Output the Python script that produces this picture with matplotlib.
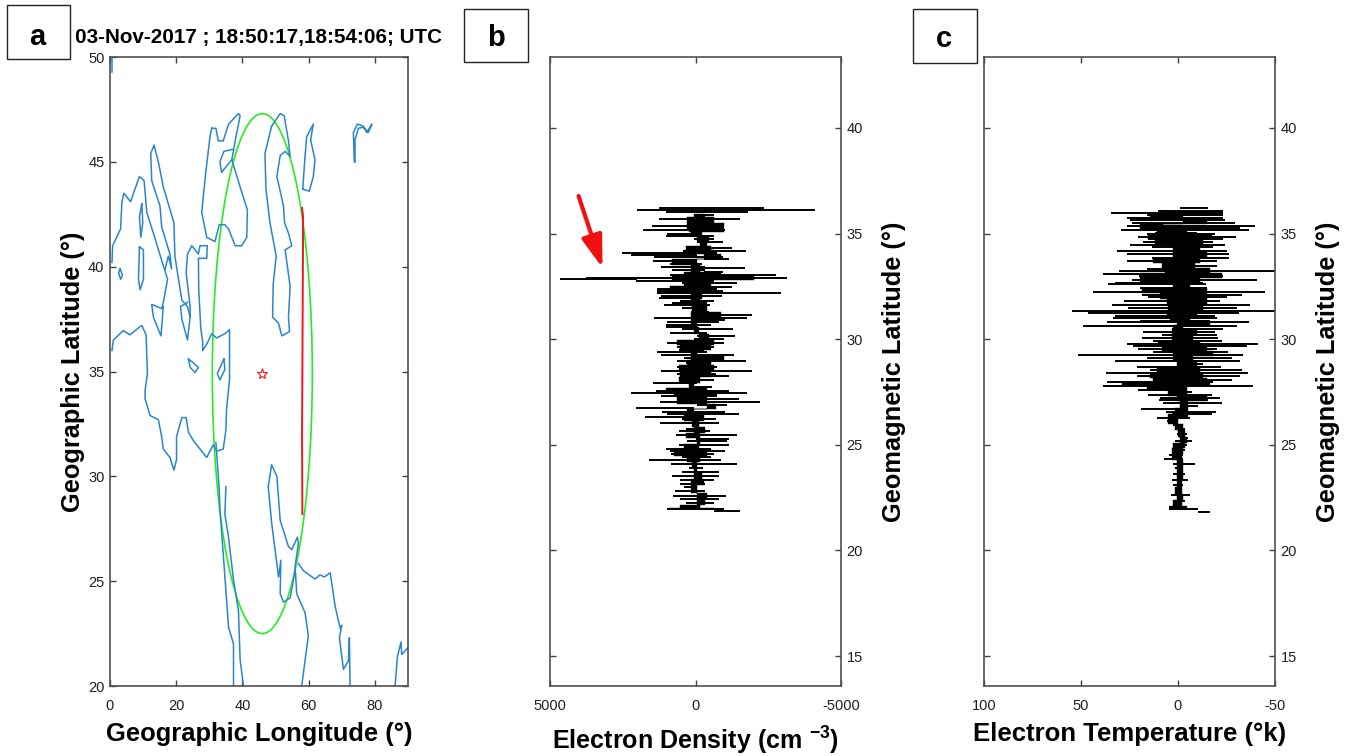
import matplotlib
matplotlib.use('Agg')
import matplotlib.pyplot as plt
from matplotlib.patches import Ellipse, Rectangle

plt.rcParams['font.family'] = ['Liberation Sans', 'DejaVu Sans']
plt.rcParams['mathtext.fontset'] = 'custom'
plt.rcParams['mathtext.bf'] = 'Liberation Sans:bold'
plt.rcParams['axes.unicode_minus'] = False

W, H = 1349, 756

# coastlines (lon, lat)
edge_lon = [0.6, 0.6]
edge_lat = [50.0, 49.3]
iberia_lon = [0.6, 0.8, 3.2, 3.6, 4.2, 6.2, 8.9, 10.3, 11.1, 13.1, 15.6, 17.4, 16.1, 15.6, 12.6, 13.1, 15.4, 16.1]
iberia_lat = [40.2, 41.0, 41.8, 43.1, 43.5, 43.1, 44.3, 44.1, 42.6, 41.6, 40.3, 39.4, 38.3, 38.0, 38.2, 37.6, 36.7, 38.1]
adriatic_lon = [16.6, 17.6, 18.6, 18.1, 15.6, 15.1, 12.6, 12.3, 13.3, 14.6, 16.1, 19.3, 19.6, 21.7, 23.4, 24.2, 23.4, 21.7, 21.3, 23.4]
adriatic_lat = [39.85, 40.5, 39.9, 40.6, 41.9, 42.9, 44.1, 45.4, 45.8, 45.0, 43.8, 42.1, 40.5, 38.4, 38.1, 37.6, 36.5, 37.5, 38.1, 38.3]
africa_lon = [0.6, 1.0, 4.0, 6.0, 9.6, 10.9, 11.3, 10.6, 10.6, 12.1, 14.6, 15.6, 16.1, 18.1, 19.3, 20.1, 20.1, 21.7, 23.0, 23.7,
              25.2, 29.2, 31.2, 32.2, 34.2, 35.0, 35.2, 36.1, 36.1, 34.7, 32.2, 30.7, 29.2, 28.0, 28.0, 27.4, 26.8, 26.7, 29.2,
              29.4, 27.2, 26.7, 24.7, 23.4, 23.0, 24.2, 24.2]
africa_lat = [36.0, 36.5, 36.95, 36.75, 37.2, 36.75, 34.9, 34.1, 33.7, 32.9, 32.7, 31.9, 31.3, 30.9, 30.3, 30.8, 31.9, 32.8, 32.8, 32.1,
              31.7, 30.9, 31.5, 31.2, 31.3, 32.2, 33.2, 34.6, 37.0, 36.8, 36.6, 36.8, 36.3, 36.0, 36.4, 37.1, 38.9, 40.4, 40.4,
              41.0, 41.0, 40.6, 41.0, 40.6, 39.7, 38.1, 37.6]
black_lon = [30.7, 32.0, 32.7, 34.2, 35.8, 38.8, 39.3, 37.8, 36.8, 39.3, 41.5, 41.3, 39.8, 37.8, 35.8, 34.7, 33.0, 31.7, 29.2, 27.7, 28.4, 29.0, 30.2, 30.7]
black_lat = [46.6, 46.6, 46.0, 46.0, 46.8, 47.3, 47.2, 46.0, 45.1, 43.8, 42.7, 41.4, 41.0, 41.0, 41.8, 42.0, 42.0, 41.2, 41.4, 42.6, 43.7, 44.6, 46.2, 46.6]
azov_lon = [36.8, 33.7, 33.2, 34.4, 37.3]
azov_lat = [45.1, 44.5, 45.0, 45.5, 45.6]
caspian_lon = [48.8, 51.4, 52.6, 53.9, 54.4, 52.9, 51.4, 50.4, 52.4, 52.7, 53.9, 54.9, 52.9, 54.4, 53.9, 54.2, 51.9, 50.9, 49.1, 49.3, 50.2, 48.3, 47.1, 46.8, 48.8]
caspian_lat = [46.7, 47.3, 47.2, 46.0, 45.25, 45.5, 45.3, 44.3, 42.9, 42.1, 41.6, 41.0, 40.8, 39.05, 37.6, 36.9, 36.7, 37.3, 37.6, 39.2, 40.5, 42.1, 43.7, 45.4, 46.7]
aral_lon = [58.2, 58.9, 59.4, 61.4, 60.6, 61.9, 61.4, 60.2, 58.2]
aral_lat = [43.7, 45.25, 46.2, 46.8, 46.05, 45.1, 44.3, 43.6, 43.7]
balkhash_lon = [73.8, 73.5, 74.7, 76.5, 77.5, 79.1, 78.0, 76.5, 75.0, 74.0, 74.0]
balkhash_lat = [45.0, 46.4, 46.8, 46.7, 46.4, 46.8, 46.4, 46.65, 46.6, 46.05, 45.0]
sardinia_lon = [8.9, 10.1, 10.1, 9.1, 8.6, 8.9]
sardinia_lat = [40.95, 40.8, 39.4, 38.9, 39.4, 40.95]
corsica_lon = [9.6, 8.9, 9.3, 9.9, 9.6]
corsica_lat = [43.0, 42.4, 41.4, 42.1, 43.0]
balearic_lon = [3.0, 3.8, 3.2, 2.6, 3.0]
balearic_lat = [39.9, 39.6, 39.4, 39.7, 39.9]
crete_lon = [23.7, 26.7, 25.7, 24.2, 23.7]
crete_lat = [35.6, 35.2, 34.95, 35.2, 35.6]
cyprus_lon = [34.4, 32.4, 33.2, 34.7, 34.4]
cyprus_lat = [35.6, 34.9, 34.6, 35.1, 35.6]
redsea_w_lon = [32.0, 33.0, 33.2, 34.2, 35.8, 37.3, 37.3]
redsea_w_lat = [31.6, 29.35, 28.4, 26.3, 22.8, 22.0, 20.0]
redsea_e_lon = [35.0, 34.7, 35.8, 37.3, 38.8, 39.3, 40.3]
redsea_e_lat = [29.5, 28.2, 27.1, 25.05, 23.6, 21.25, 20.0]
gulf_n_lon = [47.8, 48.8, 50.4, 51.4, 53.9, 54.9, 56.6, 56.9, 55.9, 56.4, 58.9, 59.9, 57.9]
gulf_n_lat = [29.5, 30.55, 30.0, 27.9, 26.65, 26.5, 27.1, 26.8, 25.7, 24.4, 23.5, 22.4, 20.0]
gulf_s_lon = [47.8, 48.8, 50.9, 51.6, 51.4, 52.4, 54.4, 55.9]
gulf_s_lat = [29.5, 27.8, 25.2, 26.0, 24.4, 24.0, 24.2, 25.5]
iran_lon = [56.9, 58.4, 61.9, 63.4, 64.7, 66.5, 68.0, 69.5, 70.0, 69.3, 70.5, 72.0, 72.3, 72.5]
iran_lat = [25.85, 25.5, 25.1, 25.3, 25.2, 25.4, 23.8, 22.75, 22.9, 22.3, 20.8, 21.2, 22.3, 20.0]
india_lon = [86.1, 86.8, 87.9, 88.1, 89.8]
india_lat = [20.0, 21.4, 22.1, 21.5, 21.8]

coasts = [(edge_lon, edge_lat), (iberia_lon, iberia_lat), (adriatic_lon, adriatic_lat), (africa_lon, africa_lat),
          (black_lon, black_lat), (azov_lon, azov_lat), (caspian_lon, caspian_lat), (aral_lon, aral_lat),
          (balkhash_lon, balkhash_lat), (sardinia_lon, sardinia_lat), (corsica_lon, corsica_lat),
          (balearic_lon, balearic_lat), (crete_lon, crete_lat), (cyprus_lon, cyprus_lat),
          (redsea_w_lon, redsea_w_lat), (redsea_e_lon, redsea_e_lat), (gulf_n_lon, gulf_n_lat),
          (gulf_s_lon, gulf_s_lat), (iran_lon, iran_lat), (india_lon, india_lat)]

# satellite track, epicentre and preparation zone
track_lon = [58.0, 58.3, 58.3, 58.1, 58.0, 58.1]
track_lat = [42.8, 42.4, 41.5, 35.0, 32.0, 28.2]
epi_lon = 46.0
epi_lat = 34.9
zone_width = 30.2
zone_height = 24.8

# panel b: electron density, tips of the spikes per latitude
dens_lat = [36.19, 36.13, 36.02, 35.88, 35.70, 35.53, 35.35, 35.18, 34.99, 34.88, 34.72, 34.60, 34.30, 34.17, 34.09, 34.00,
            33.87, 33.79, 33.68, 33.57, 33.44, 33.38, 33.27, 33.16, 33.02, 32.92, 32.83, 32.76, 32.64, 32.48, 32.37, 32.27,
            32.18, 32.04, 31.93, 31.81, 31.72, 31.61, 31.50, 31.29, 31.14, 31.01, 30.90, 30.80, 30.69, 30.58, 30.46, 30.27,
            30.16, 30.00, 29.81, 29.63, 29.51, 29.37, 29.27, 29.13, 28.97, 28.85, 28.69, 28.48, 28.37, 28.25, 28.06, 27.93,
            27.74, 27.55, 27.43, 27.32, 27.17, 27.02, 26.87, 26.72, 26.57, 26.45, 26.32, 26.21, 26.04, 25.77, 25.64, 25.44,
            25.28, 25.17, 25.01, 24.82, 24.71, 24.58, 24.43, 24.27, 24.11, 23.92, 23.71, 23.51, 23.32, 23.16, 23.00, 22.81,
            22.59, 22.43, 22.24, 22.12, 21.96, 21.85]
dens_hi = [1260, 2000, 1030, 60, 1260, 290, 1510, 1800, 970, 1030, 60, -60, 340, 420, 2510, 2230,
           1430, -290, 1470, 860, 1200, 170, 800, -290, 860, 3780, 4640, 2030, 460, 520, 1340, 1340,
           1320, 1200, 1260, 520, 800, 1090, 460, 170, 170, 1430, 170, 970, 1030, 1030, 460, 860,
           -60, 60, 970, 630, 570, 1340, 1180, 400, 630, 340, 630, 1180, 630, 460, 570, 1470,
           170, 1370, 2230, 1200, 60, 1230, -60, 2050, 1150, 970, 1720, 460, 1230, 340, 570, 680,
           0, 290, 570, 1010, 860, 840, 460, 1590, 840, 230, 460, 800, 520, 540, 400, 690,
           770, 540, 340, 400, 970, -630]
dens_lo = [-2350, -4120, -1800, -630, -1520, -630, -970, -1000, 170, -630, -630, -950, -1260, -1740, -740, -60,
           -950, -1150, -60, -230, -340, -1690, -340, -950, -2750, -3150, 2000, -630, -1410, -1260, -740, -940,
           -2940, -920, -170, -630, -400, -490, -290, -460, -1950, -1770, -1030, -800, -520, -60, -1290, -400,
           -1370, -970, -970, -630, -290, -400, -1320, -970, -1740, -520, -740, -1950, -720, -1150, -630, -60,
           -570, -1150, -1770, -740, -1490, -2230, -1090, 60, -1030, -1490, 110, -690, -800, -340, -490, -1410,
           -1150, -1090, -1150, -520, -1030, -630, -520, -860, -1410, -260, -800, -800, -630, -340, -60, -340,
           -1060, -800, -630, -110, -970, -1520]
# solid black core of the density trace
dens_core_lat = [35.95, 35.64, 35.32, 35.16, 35.01, 34.77, 34.53, 34.30, 34.14, 33.90, 33.66, 33.35, 33.03, 32.92, 32.72, 32.32,
                 32.08, 31.69, 31.45, 31.14, 30.74, 30.42, 30.11, 29.79, 29.63, 29.32, 29.08, 28.93, 28.61, 28.37, 28.06, 27.82,
                 27.58, 27.43, 27.27, 27.03, 26.87, 26.56, 26.24, 26.00, 25.69, 25.45, 25.21, 24.90, 24.58, 24.35, 24.03, 23.87,
                 23.56, 23.24, 22.92, 22.53, 22.29, 22.05, 21.94]
dens_core_hi = [60, 290, 290, 230, 170, -60, -170, 340, 400, -290, 800, 170, 400, 800, 400, 860,
                170, 170, 110, 170, 170, 60, -110, 630, 520, 170, 170, 290, 570, 520, 570, 230,
                1030, 740, 630, 630, -400, 290, 400, 110, 60, 340, -60, 400, 740, 290, 110, 60,
                60, 170, 170, -60, -60, 520, 920]
dens_core_lo = [-340, -630, -970, -970, -230, -460, -400, -520, -630, -860, -60, -170, -860, -2000, -520, -170,
                -230, -170, -400, -860, -60, -110, -460, -630, -520, -60, -970, -520, -630, -520, -170, 60,
                -400, -740, -400, -400, -690, 60, -290, -110, -340, -170, -170, -110, -400, -170, -60, -60,
                -230, -290, -60, -400, -340, -170, -630]

# panel c: electron temperature
temp_lat = [36.19, 36.08, 35.97, 35.87, 35.76, 35.64, 35.51, 35.38, 35.27, 35.18, 35.05, 34.96, 34.85, 34.72, 34.61, 34.48,
            34.36, 34.18, 34.02, 33.82, 33.68, 33.47, 33.34, 33.22, 33.09, 32.98, 32.81, 32.68, 32.59, 32.40, 32.22, 32.11,
            31.99, 31.83, 31.64, 31.48, 31.34, 31.26, 31.10, 30.99, 30.85, 30.79, 30.64, 30.50, 30.34, 30.19, 30.06, 29.90,
            29.79, 29.66, 29.54, 29.40, 29.25, 29.09, 28.98, 28.81, 28.68, 28.56, 28.40, 28.24, 28.08, 27.97, 27.77, 27.61,
            27.48, 27.36, 27.21, 27.10, 26.98, 26.85, 26.71, 26.55, 26.44, 26.28, 26.12, 25.92, 25.76, 25.52, 25.33, 25.16,
            24.97, 24.77, 24.54, 24.32, 24.10, 23.91, 23.63, 23.34, 23.08, 22.84, 22.60, 22.36, 22.05, 21.94, 21.83]
temp_hi = [-1, 10.1, 34.7, 15.8, 26.1, 24.7, 23.9, 26.1, 19.6, 29.5, 11.9, 16.1, 20.4, 15.3, 17.9, 24.7,
           13.6, 31.6, 26.5, 13.6, 26.1, 8.4, 16.1, 30.2, 38.5, 19.9, 23.9, 32.5, 35.9, 19.6, 43.6, 18.7,
           15.3, 27.8, 34.2, 25.6, 54.8, 46.2, 32.5, 33.3, 19.6, 36.8, 48.8, 3.3, 17.9, 8.4, 18.7, 12.7,
           26.5, 23, 20.4, 12.7, 51.7, 16.1, 32.5, 0.7, 21.3, 14.4, 37.1, 21.3, 11.9, 36.8, 38.5, 20.4,
           5, 15.3, 9.3, 9.6, 7.6, -1, 19.1, 6.2, 3.3, 11, 5.8, 2.4, 1.5, 0.7, -1, 1.5,
           2.4, 3.3, 4.5, 7.2, 2.4, 1.5, 2.4, 3.3, 2.4, 1.5, 3.6, 1, 4.5, 4.5, -10.5]
temp_lo = [-15.3, -23, -23, -23, -23, -24.2, -29.4, -39.7, -32, -36.8, -9.6, -19.1, -29.9, -23.4, -18.2, -24.2,
           -18.2, -25.1, -26.5, -26.5, -19.9, -20.3, -16.5, -50, -22.5, -23, -40.5, -13.1, -14.4, -14.8, -44.8, -32.8,
           -25.1, -21.6, -37.1, -30.2, -50, -31.6, -19.1, -19.9, -16.5, -36.6, -30.2, -23.4, -19.1, -19.9, -20.8, -22.5,
           -41.4, -35.4, -19.9, -25.9, -33.7, -27.7, -32, -12.7, -22.2, -32.8, -36.2, -32, -27.7, -18.2, -38.8, -4.5,
           -7, -17.4, -21.6, -15.6, -22.5, -10.5, -5.3, -19.6, -17.4, -6.2, -0.2, -1.9, -3.6, -4.5, -5.3, -7,
           -4.5, -3.6, -2.7, -2.7, -8.8, -2.7, -3.6, -5.3, -2.7, -1.9, -6.2, -3.6, -4.5, -10.5, -16.5]
temp_core_lat = [36.03, 35.79, 35.56, 35.32, 35.08, 34.85, 34.61, 34.29, 33.98, 33.74, 33.50, 33.27, 33.03, 32.79, 32.55, 32.32,
                 32.08, 31.76, 31.45, 31.21, 30.97, 30.74, 30.58, 30.34, 30.03, 29.79, 29.55, 29.32, 29.08, 28.84, 28.53, 28.29,
                 28.05, 27.89, 27.74, 27.42, 27.18, 26.95, 26.55, 26.39, 26.16, 25.84, 25.52, 25.21, 24.97, 24.73, 24.42, 24.10,
                 23.79, 23.47, 23.16, 22.84, 22.52, 22.21, 21.97]
temp_core_hi = [5.8, 14.4, -2.7, 19.6, 11, 15.3, 11.9, 2.4, 2.4, 12.7, 8.4, 6.7, 19.6, 19.6, 2.4, 18.7,
                9.3, 5.8, 5, 5.8, 4.1, 0.7, 2.4, 3.3, 3.3, 10.1, 8.4, 2.4, 2.4, 0.7, 11, 14.4,
                12.7, 29, 16.1, 5, 0.7, -1, 1.5, 5, 5, 1.5, -0.2, -1, 2.4, 3.3, 3.3, 0.7,
                0.7, 0.7, 0.7, 1.5, 0.7, 2.4, 4.1]
temp_core_lo = [-18.2, -2.7, -14.8, 7.6, -4.5, -17.4, -13.1, -11.3, -14.8, -11.3, -8.8, -16.5, -22.5, -11.3, -6.2, -14.8,
                -14.8, -14.8, -13.1, -9.6, -6.2, -16.5, -2.7, -9.6, -7.9, -11.3, -14.8, -18.2, -7.9, -9.6, -11.3, -13.1,
                -14.8, -16.5, -4.5, -4.5, -14.8, -5.3, -5.3, -5.3, -0.2, -2.7, -3.6, -4.5, -3.6, -2.7, -1.9, -2.7,
                -2.7, -2.7, -1.9, -1.9, -2.7, -1.9, -4.5]

# red arrow in panel b (data coordinates)
arrow_start = (4020, 36.78)
arrow_end = (3195, 33.37)

lat_ticks = [15, 20, 25, 30, 35, 40]
gm_lim = (13.58, 43.36)


def add_axes(x0, y0, x1, y1):
    ax = fig.add_axes([x0 / W, 1 - y1 / H, (x1 - x0) / W, (y1 - y0) / H])
    for s in ax.spines.values():
        s.set_color('#505050')
        s.set_linewidth(1.2)
    ax.tick_params(direction='in', length=4, width=1, color='#404040', labelsize=10.5, labelcolor='#202020', pad=4)
    ax.tick_params(axis='x', pad=9)
    return ax


def trace_panel(ax, lat, hi, lo, core_lat, core_hi, core_lo):
    ax.fill_betweenx(core_lat, core_hi, core_lo, color='k', lw=0.3, step='mid')
    ax.hlines(lat, lo, hi, color='k', lw=1.4)
    ax.set_ylim(gm_lim)
    ax.set_yticks(lat_ticks)
    ax.yaxis.tick_right()
    ax.tick_params(axis='y', which='both', left=True, right=True)
    ax.yaxis.set_label_position('right')
    ax.set_ylabel('Geomagnetic Latitude (°)', fontsize=18.3, fontweight='bold', labelpad=14)


def letter(x0, y0, x1, y1, cx, cy, s):
    fig.add_artist(Rectangle((x0 / W, 1 - y1 / H), (x1 - x0) / W, (y1 - y0) / H, transform=fig.transFigure,
                             fc='white', ec='#222222', lw=1))
    fig.text(cx / W, 1 - cy / H, s, fontsize=21, fontweight='bold', ha='center', va='center')


fig = plt.figure(figsize=(W / 100, H / 100), dpi=100)

# panel a
ax1 = add_axes(110, 57, 408, 686)
for lon, lat in coasts:
    ax1.plot(lon, lat, color='#2a85cc', lw=1.1)
ax1.add_patch(Ellipse((epi_lon, epi_lat), zone_width, zone_height, fc='none', ec='#22ee22', lw=1.2))
ax1.plot(track_lon, track_lat, color='#f01818', lw=1.4)
ax1.plot(epi_lon, epi_lat, marker='*', mfc='none', mec='#f01818', ms=8, mew=0.8)
ax1.set_xlim(0, 90)
ax1.set_ylim(20, 50)
ax1.set_xticks([0, 20, 40, 60, 80])
ax1.set_yticks([20, 25, 30, 35, 40, 45, 50])
ax1.tick_params(top=True, right=True)
ax1.set_xlabel('Geographic Longitude (°)', fontsize=18.4, fontweight='bold', labelpad=7)
ax1.set_ylabel('Geographic Latitude (°)', fontsize=18.3, fontweight='bold', labelpad=2)
fig.text(258.5 / W, 1 - 38 / H, '03-Nov-2017 ; 18:50:17,18:54:06; UTC', fontsize=14.85, fontweight='bold', ha='center', va='center')

# panel b
ax2 = add_axes(550, 57, 841, 686)
trace_panel(ax2, dens_lat, dens_hi, dens_lo, dens_core_lat, dens_core_hi, dens_core_lo)
ax2.set_xlim(5000, -5000)
ax2.set_xticks([5000, 0, -5000])
ax2.tick_params(axis='x', top=True)
ax2.set_xlabel('Electron Density (cm $^{\\mathbf{-3}}$)', fontsize=18.1, fontweight='bold', labelpad=9)
ax2.annotate('', xy=arrow_end, xytext=arrow_start,
             arrowprops=dict(arrowstyle='-|>,head_width=0.45,head_length=1.4', mutation_scale=14,
                             color='#f01010', lw=3, shrinkA=0, shrinkB=0))

# panel c
ax3 = add_axes(984, 57, 1275, 686)
trace_panel(ax3, temp_lat, temp_hi, temp_lo, temp_core_lat, temp_core_hi, temp_core_lo)
ax3.set_xlim(100, -50)
ax3.set_xticks([100, 50, 0, -50])
ax3.tick_params(axis='x', top=True)
ax3.set_xlabel('Electron Temperature (°k)', fontsize=18.5, fontweight='bold', labelpad=7)

letter(7, 5, 70, 59, 37.5, 37, 'a')
letter(464, 9, 528, 62, 496, 38, 'b')
letter(913, 9, 977, 63, 944, 39, 'c')

fig.savefig('out.png', dpi=100)
